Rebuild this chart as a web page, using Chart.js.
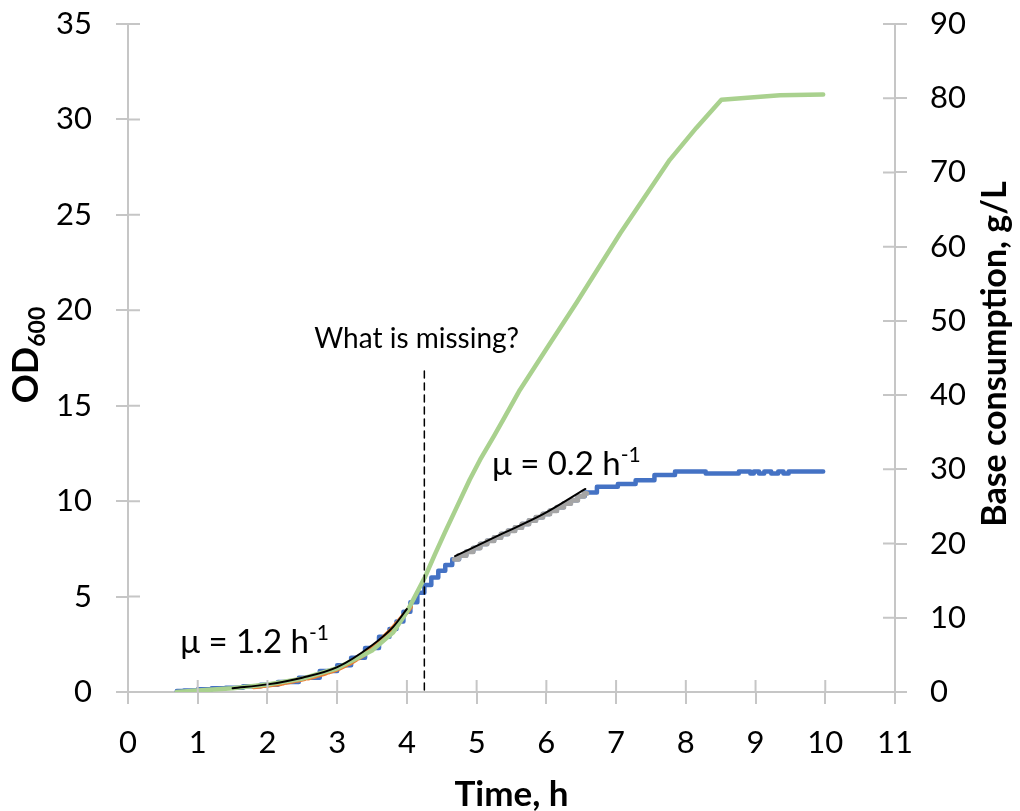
<!DOCTYPE html>
<html>
<head>
<meta charset="utf-8">
<script src="https://cdn.jsdelivr.net/npm/chart.js@4.4.0/dist/chart.umd.min.js"></script>
<style>
  html, body { margin: 0; padding: 0; background: #fff; }
  #wrap { width: 1020px; height: 811px; }
</style>
</head>
<body>
<div id="wrap"><canvas id="myChart" width="1020" height="811"></canvas></div>
<script>
// online OD600 (blue), h
const odTime = [0.7, 0.9, 1.1, 1.3, 1.5, 1.8, 2.0, 2.3, 2.6, 2.9, 3.1, 3.3, 3.5, 3.7, 3.8, 3.9, 4.0, 4.1, 4.2, 4.3,
  4.4, 4.5, 4.6, 4.7, 4.8, 4.9, 5.0, 5.1, 5.2, 5.3, 5.4, 5.5, 5.6, 5.7, 5.8, 5.9, 6.0, 6.1, 6.2, 6.3,
  6.4, 6.5, 6.6, 6.85, 7.2, 7.36, 7.74, 7.95, 8.62, 8.9, 8.95, 9.0, 9.1, 9.15, 9.3, 9.35, 9.45, 9.5, 9.97];
const odValue = [0.05, 0.08, 0.15, 0.2, 0.22, 0.3, 0.38, 0.52, 0.75, 1.1, 1.4, 1.8, 2.3, 2.9, 3.3, 3.7, 4.2, 4.7, 5.2, 5.6,
  6.0, 6.35, 6.65, 6.95, 7.15, 7.35, 7.55, 7.75, 7.92, 8.1, 8.28, 8.45, 8.62, 8.8, 8.98, 9.15, 9.33, 9.5, 9.68, 9.87,
  10.05, 10.25, 10.45, 10.75, 10.9, 11.1, 11.37, 11.55, 11.45, 11.55, 11.45, 11.55, 11.45, 11.55, 11.45, 11.55, 11.45, 11.55, 11.55];

// points used for the first fit (orange)
const expTime = [1.8, 2.0, 2.2, 2.4, 2.6, 2.8, 3.0, 3.2, 3.4, 3.6, 3.8, 4.0, 4.05];
const expValue = [0.28, 0.35, 0.45, 0.6, 0.75, 0.95, 1.2, 1.55, 2.0, 2.6, 3.35, 4.2, 4.45];

// points used for the second fit (gray)
const slowTime = [4.68, 4.8, 4.9, 5.0, 5.1, 5.2, 5.3, 5.4, 5.5, 5.6, 5.7, 5.8, 5.9, 6.0, 6.1, 6.2, 6.3, 6.4, 6.5, 6.58];
const slowValue = [6.95, 7.15, 7.35, 7.55, 7.75, 7.92, 8.1, 8.28, 8.45, 8.62, 8.8, 8.98, 9.15, 9.33, 9.5, 9.68, 9.87, 10.05, 10.25, 10.4];

// base consumption, g/L (green, right axis)
const baseTime = [0.7, 1.0, 1.5, 2.0, 2.5, 3.0, 3.5, 3.8, 4.0, 4.26, 4.4, 4.55, 4.7, 4.9, 5.05, 5.25, 5.4, 5.62, 6.0, 6.43,
  7.06, 7.77, 8.15, 8.51, 9.35, 9.97];
const baseValue = [0.0, 0.2, 0.5, 1.0, 1.8, 3.2, 5.6, 8.0, 10.8, 15.5, 18.5, 21.6, 24.6, 28.6, 31.3, 34.5, 37.0, 40.7, 46.2, 52.4,
  61.8, 71.7, 76.0, 79.8, 80.4, 80.5];

// fitted curves (black)
const fit1Time = [1.5, 2.0, 2.5, 3.0, 3.5, 3.8, 4.0];
const fit1Value = [0.2, 0.4, 0.75, 1.3, 2.45, 3.4, 4.35];
const fit2Time = [4.69, 5.33, 5.96, 6.56];
const fit2Value = [7.12, 8.23, 9.33, 10.64];

// dashed marker
const markTime = [4.25, 4.25];
const markValue = [0.1, 17.0];

const xTicks = [0, 11, 1];
const odTicks = [0, 35, 5];
const baseTicks = [0, 90, 10];

const FONT = 'Lato, "Open Sans", sans-serif';
const AXIS = '#c6c6c6';

function pts(xs, ys) {
  return xs.map((x, i) => ({ x: x, y: ys[i] }));
}

// tick marks that also go inside the plot, like excel "cross"
const crossTicks = {
  id: 'crossTicks',
  afterDraw(chart) {
    const ctx = chart.ctx;
    const a = chart.chartArea;
    const s = chart.scales;
    ctx.save();
    ctx.strokeStyle = AXIS;
    ctx.lineWidth = 2;
    ctx.beginPath();
    s.x.ticks.forEach(t => {
      const px = s.x.getPixelForValue(t.value);
      ctx.moveTo(px, a.bottom);
      ctx.lineTo(px, a.bottom - 12);
    });
    s.y.ticks.forEach(t => {
      const py = s.y.getPixelForValue(t.value);
      ctx.moveTo(a.left, py);
      ctx.lineTo(a.left + 12, py);
    });
    s.y2.ticks.forEach(t => {
      const py = s.y2.getPixelForValue(t.value);
      ctx.moveTo(a.right, py);
      ctx.lineTo(a.right - 12, py);
    });
    ctx.stroke();
    ctx.restore();
  }
};

function drawParts(ctx, parts, x, y, align) {
  let w = 0;
  parts.forEach(p => { ctx.font = p.font; w += ctx.measureText(p.text).width; });
  let cx = align === 'center' ? x - w / 2 : x;
  parts.forEach(p => {
    ctx.font = p.font;
    ctx.fillText(p.text, cx, y + (p.dy || 0));
    cx += ctx.measureText(p.text).width;
  });
}

const notes = {
  id: 'notes',
  afterDraw(chart) {
    const ctx = chart.ctx;
    const a = chart.chartArea;
    const x = chart.scales.x, y = chart.scales.y;
    ctx.save();
    ctx.fillStyle = '#000';
    ctx.textBaseline = 'alphabetic';
    ctx.textAlign = 'left';

    drawParts(ctx, [{ text: 'What is missing?', font: '28px ' + FONT }],
      x.getPixelForValue(4.14), y.getPixelForValue(18.0), 'center');
    drawParts(ctx, [
      { text: 'μ = 1.2 h', font: '33px ' + FONT },
      { text: '-1', font: '21px ' + FONT, dy: -13 }
    ], x.getPixelForValue(0.75), y.getPixelForValue(2.04), 'left');
    drawParts(ctx, [
      { text: 'μ = 0.2 h', font: '33px ' + FONT },
      { text: '-1', font: '21px ' + FONT, dy: -13 }
    ], x.getPixelForValue(5.22), y.getPixelForValue(11.37), 'left');

    // axis titles
    const midY = (a.top + a.bottom) / 2;
    drawParts(ctx, [{ text: 'Time, h', font: 'bold 35px ' + FONT }], (a.left + a.right) / 2, 806, 'center');

    ctx.save();
    ctx.translate(38, midY - 3);
    ctx.rotate(-Math.PI / 2);
    drawParts(ctx, [
      { text: 'OD', font: 'bold 36px ' + FONT },
      { text: '600', font: 'bold 23px ' + FONT, dy: 7 }
    ], 0, 0, 'center');
    ctx.restore();

    ctx.save();
    ctx.translate(1006, midY - 4);
    ctx.rotate(-Math.PI / 2);
    drawParts(ctx, [{ text: 'Base consumption, g/L', font: 'bold 34px ' + FONT }], 0, 0, 'center');
    ctx.restore();
    ctx.restore();
  }
};

const tickFont = { family: FONT, size: 31 };

// keep excel-like plot area: drop the label overhang chart.js adds above/below
function noOverhang(s) {
  s.paddingTop = 0;
  s.paddingBottom = 0;
}

const chart = new Chart(document.getElementById('myChart'), {
  type: 'line',
  data: {
    datasets: [
      { data: pts(markTime, markValue), borderColor: '#000', borderWidth: 1.5, borderDash: [7, 5], yAxisID: 'y', order: 0 },
      { data: pts(fit1Time, fit1Value), borderColor: '#000', borderWidth: 2, cubicInterpolationMode: 'monotone', yAxisID: 'y', order: 1 },
      { data: pts(fit2Time, fit2Value), borderColor: '#000', borderWidth: 2, cubicInterpolationMode: 'monotone', yAxisID: 'y', order: 1 },
      { data: pts(baseTime, baseValue), borderColor: '#a9d18e', borderWidth: 4.5, yAxisID: 'y2', order: 2 },
      { data: pts(slowTime, slowValue), borderColor: '#a5a5a5', borderWidth: 5, stepped: 'middle', yAxisID: 'y', order: 3 },
      { data: pts(expTime, expValue), borderColor: '#ed7d31', borderWidth: 5, borderDash: [8, 3], yAxisID: 'y', order: 4 },
      { data: pts(odTime, odValue), borderColor: '#4472c4', borderWidth: 4.5, stepped: 'middle', yAxisID: 'y', order: 5 }
    ]
  },
  options: {
    responsive: false,
    animation: false,
    events: [],
    elements: { point: { radius: 0 }, line: { tension: 0, borderCapStyle: 'round', borderJoinStyle: 'round' } },
    layout: { padding: { top: 24, left: 0, right: 0, bottom: 0 } },
    plugins: { legend: { display: false }, tooltip: { enabled: false } },
    scales: {
      x: {
        type: 'linear', min: xTicks[0], max: xTicks[1],
        ticks: { stepSize: xTicks[2], font: tickFont, color: '#000', padding: 20, maxRotation: 0 },
        grid: { drawOnChartArea: false, color: AXIS, lineWidth: 2, tickLength: 12 },
        border: { color: AXIS, width: 2 },
        afterFit(s) { s.height = 119; }
      },
      y: {
        position: 'left', min: odTicks[0], max: odTicks[1],
        ticks: { stepSize: odTicks[2], font: tickFont, color: '#000', padding: 24 },
        grid: { drawOnChartArea: false, color: AXIS, lineWidth: 2, tickLength: 12 },
        border: { color: AXIS, width: 2 },
        afterFit(s) { s.width = 128; noOverhang(s); }
      },
      y2: {
        position: 'right', min: baseTicks[0], max: baseTicks[1],
        ticks: { stepSize: baseTicks[2], font: tickFont, color: '#000', padding: 23 },
        grid: { drawOnChartArea: false, color: AXIS, lineWidth: 2, tickLength: 12 },
        border: { color: AXIS, width: 2 },
        afterFit(s) { s.width = 125; noOverhang(s); }
      }
    }
  },
  plugins: [crossTicks, notes]
});
</script>
</body>
</html>
